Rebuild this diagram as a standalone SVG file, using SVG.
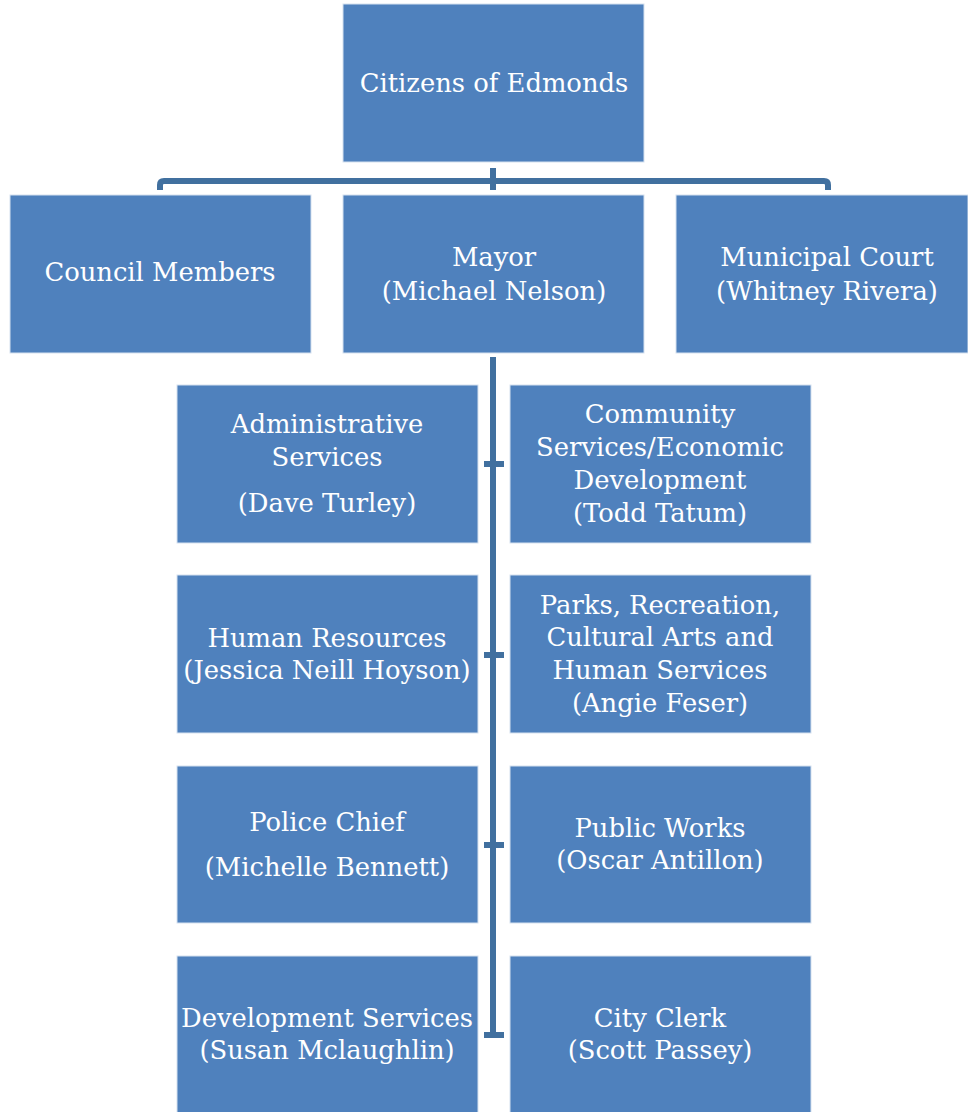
<svg xmlns="http://www.w3.org/2000/svg" width="968" height="1112" viewBox="0 0 968 1112">
<style>
.box{fill:#4F81BD;stroke:#d6e1ef;stroke-width:1}
.t{font-family:"DejaVu Serif","Liberation Serif",serif;font-size:25.8px;fill:#ffffff;text-anchor:middle}
.c{fill:none;stroke:#41709f;stroke-width:6}
</style>
<rect width="968" height="1112" fill="#ffffff"/>
<g id="connectors">
<path class="c" d="M160,190 V185 Q160,181 164,181 H824 Q828,181 828,185 V190"/>
<path class="c" d="M493,168 V190"/>
<path class="c" d="M493,357 V1035"/>
<path class="c" d="M484,464 H504 M484,655 H504 M484,845 H504 M484,1035 H504"/>
</g>
<g id="n-citizens"><rect class="box" x="343" y="4" width="301" height="158"/><text class="t" x="494" y="92">Citizens of Edmonds</text></g>
<g id="n-council"><rect class="box" x="10" y="195" width="301" height="158"/><text class="t" x="160" y="281">Council Members</text></g>
<g id="n-mayor"><rect class="box" x="343" y="195" width="301" height="158"/><text class="t" x="494" y="266">Mayor</text><text class="t" x="494" y="300">(Michael Nelson)</text></g>
<g id="n-court"><rect class="box" x="676" y="195" width="292" height="158"/><text class="t" x="827" y="266">Municipal Court</text><text class="t" x="827" y="300">(Whitney Rivera)</text></g>
<g id="n-admin"><rect class="box" x="177" y="385" width="301" height="158"/><text class="t" x="327" y="433">Administrative</text><text class="t" x="327" y="466">Services</text><text class="t" x="327" y="512">(Dave Turley)</text></g>
<g id="n-community"><rect class="box" x="510" y="385" width="301" height="158"/><text class="t" x="660" y="423">Community</text><text class="t" x="660" y="456">Services/Economic</text><text class="t" x="660" y="489">Development</text><text class="t" x="660" y="522">(Todd Tatum)</text></g>
<g id="n-hr"><rect class="box" x="177" y="575" width="301" height="158"/><text class="t" x="327" y="647">Human Resources</text><text class="t" x="327" y="679">(Jessica Neill Hoyson)</text></g>
<g id="n-parks"><rect class="box" x="510" y="575" width="301" height="158"/><text class="t" x="660" y="614">Parks, Recreation,</text><text class="t" x="660" y="646">Cultural Arts and</text><text class="t" x="660" y="679">Human Services</text><text class="t" x="660" y="712">(Angie Feser)</text></g>
<g id="n-police"><rect class="box" x="177" y="766" width="301" height="157"/><text class="t" x="327" y="831">Police Chief</text><text class="t" x="327" y="876">(Michelle Bennett)</text></g>
<g id="n-publicworks"><rect class="box" x="510" y="766" width="301" height="157"/><text class="t" x="660" y="837">Public Works</text><text class="t" x="660" y="869">(Oscar Antillon)</text></g>
<g id="n-devservices"><rect class="box" x="177" y="956" width="301" height="160"/><text class="t" x="327" y="1027">Development Services</text><text class="t" x="327" y="1059">(Susan Mclaughlin)</text></g>
<g id="n-clerk"><rect class="box" x="510" y="956" width="301" height="160"/><text class="t" x="660" y="1027">City Clerk</text><text class="t" x="660" y="1059">(Scott Passey)</text></g>
</svg>
